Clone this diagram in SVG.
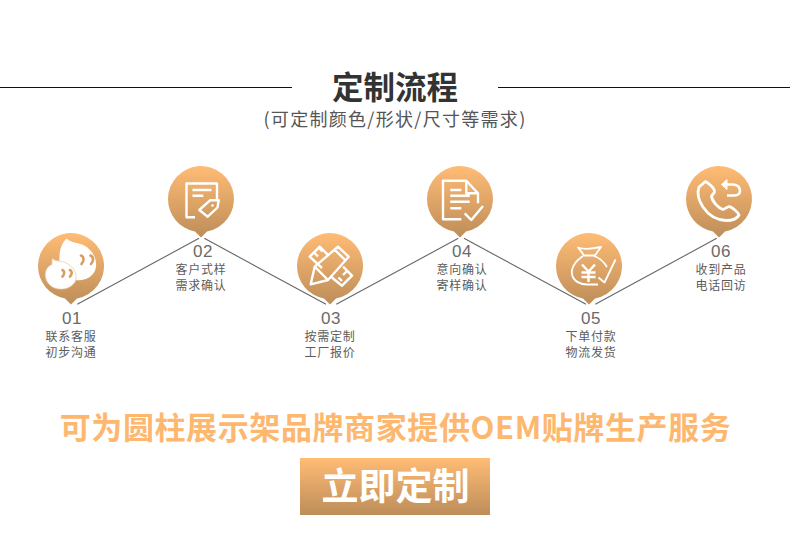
<svg xmlns="http://www.w3.org/2000/svg" width="790" height="537" viewBox="0 0 790 537">
<style>
text{font-family:"Noto Sans CJK SC","Liberation Sans",sans-serif;text-anchor:middle}
.num{font-family:"Liberation Sans","Noto Sans CJK SC",sans-serif;font-size:17px;fill:#6a6a6a;letter-spacing:.6px}
.lab{font-size:12px;fill:#5c5c5c;letter-spacing:.7px}
.ic{fill:none;stroke:#fff;stroke-width:2.4;stroke-linejoin:round}
.ln{fill:none;stroke:#666;stroke-width:1.1}
</style>
<defs>
<linearGradient id="g" x1="0" y1="0" x2="0" y2="1"><stop offset="0" stop-color="#ffbc75"/><stop offset="1" stop-color="#bd8d59"/></linearGradient>
<path id="pin" d="M-33 0A33 33 0 1 1 6 32.500L0 38.500L-6 32.500A33 33 0 0 1-33 0Z" fill="url(#g)"/>
</defs>
<rect width="790" height="537" fill="#fff"/>
<g id="title">
<path d="M0 87.500H292M498 87.500H790" stroke="#111" stroke-width="1.200"/>
<text x="395" y="99" font-size="31.500" font-weight="700" fill="#333">定制流程</text>
<text x="395" y="126" font-size="18" fill="#555" letter-spacing="1.300">(可定制颜色/形状/尺寸等需求)</text>
</g>
<g id="connectors">
<path class="ln" d="M77.300 304.300L199 238.300M204.300 238.300L326 304.300M336.300 304.300L458.300 238.300M464 238.300L586 304.300M595.300 304.300L716.700 238.300"/>
</g>
<g id="node-01">
<use href="#pin" x="71" y="266"/>
<path d="M66.700 238.500C71 244 84 242 90 250C97 257 98 268 93 274C88 280 80 281 73 280L60 270C59 260 58 246 66.700 238.500Z" fill="#fff"/>
<path d="M52.300 258.300C55 262 62 260 68 264C75 268 78 276 75 282C71 288 65 289.500 59 289C52 288.500 46 283 45.300 276C45 270 48 266 52 264.500C52 262 52 260 52.300 258.300Z" fill="#fff" stroke="#eccdaa" stroke-width=".8"/>
<path d="M81 255.500C84 256.500 84.500 260.500 81.500 264M90.500 255.500C93.500 256.500 94 260.500 91 264M62.500 270C64.500 271 65 274 62.500 276.500M70 270C72 271 72.500 274 70 276.500" fill="none" stroke="#d69f62" stroke-width="2.600" stroke-linecap="round"/>
<text class="num" x="72" y="324">01</text>
<text class="lab" x="71" y="340.500">联系客服</text>
<text class="lab" x="71" y="356.500">初步沟通</text>
</g>
<g id="node-02">
<use href="#pin" x="201" y="199"/>
<path class="ic" d="M195 217.300H186.500V183.500H217V199M192.500 190H211.500M192.500 195.700H203.300"/>
<path class="ic" d="M199.300 210L210 200.300H218.700L217.500 207.500L207.700 216.700Z"/>
<circle cx="212.500" cy="205.500" r="1.300" fill="#fff"/>
<text class="num" x="203" y="257">02</text>
<text class="lab" x="201" y="273.500">客户式样</text>
<text class="lab" x="201" y="289.500">需求确认</text>
</g>
<g id="node-03">
<use href="#pin" x="330" y="266"/>
<path class="ic" d="M310.700 284.300L314.700 266.700L338 246.700L348.700 256.700L328 280ZM314.700 266.700L328 280M335 250L345 260"/>
<path class="ic" d="M322 268L309.700 256.700L319.700 246.700L328.700 255.700M314 252.500L318 256.500M319 248L322.500 251.500M343 266.700L352 275.700L342 285.700L331 276.700M347 271L343 275M342 281L338.500 277.500"/>
<text class="num" x="331" y="324">03</text>
<text class="lab" x="330" y="340.500">按需定制</text>
<text class="lab" x="330" y="356.500">工厂报价</text>
</g>
<g id="node-04">
<use href="#pin" x="460" y="199"/>
<path class="ic" d="M461.300 219.300H443V180.700H466.300L478 193.300V203.300M466.300 180.700V193.300H478M450.300 190H461.300M450.300 195.700H469.700M450.300 201.700H469.700M450.300 208.300H461.300"/>
<path class="ic" d="M464.700 213.300L471.300 220L483 206"/>
<text class="num" x="462" y="257">04</text>
<text class="lab" x="462" y="273.500">意向确认</text>
<text class="lab" x="462" y="289.500">寄样确认</text>
</g>
<g id="node-05">
<use href="#pin" x="589" y="266"/>
<path class="ic" style="stroke-width:1.800" d="M578 247.500C585 250 592 249 601 247C598 251 596 254 595 255.500H584C582 252 580 250 578 247.500ZM583 256C574 262 571 269 572 274C573 281 580 284.500 587 284.500H598M594 256C600 258 604 262 607 267"/>
<path class="ic" d="M582 264.500L588.500 271.500L595 264.500M588.500 271.500V282M581.500 272.500H595.500M581.500 277H595.500"/>
<path class="ic" style="stroke-width:1.800" d="M598.500 277.500L604.500 282.500L615.500 259.500"/>
<text class="num" x="591" y="324">05</text>
<text class="lab" x="591" y="340.500">下单付款</text>
<text class="lab" x="591" y="356.500">物流发货</text>
</g>
<g id="node-06">
<use href="#pin" x="719" y="199"/>
<path class="ic" style="stroke-width:2.800" d="M705.500 181.500L699 187C697 193 699 201 703 207C709 216 717 220 726 220.500C732 220.500 737 219 739 215C738 212 733 208 729.500 206.500C727 207 725 209 723 209.500C718 208 712 201 711.500 196C713 194 715 193 714.500 190.500C713 187 708 183 705.500 181.500Z"/>
<path d="M721.500 184.500L727 179.500V189.500Z" fill="#fff" stroke="#fff" stroke-linejoin="round"/>
<path class="ic" style="stroke-width:2.600" d="M726 184.500H733C738 185 740 188 740 191C740 194 737 195.500 734 195.500H727"/>
<text class="num" x="721" y="257">06</text>
<text class="lab" x="721" y="273.500">收到产品</text>
<text class="lab" x="721" y="289.500">电话回访</text>
</g>
<g id="banner">
<text x="395.500" y="438.500" font-size="31" font-weight="700" fill="#fdb76f" letter-spacing=".6">可为圆柱展示架品牌商家提供OEM贴牌生产服务</text>
</g>
<g id="button">
<rect x="300" y="458" width="190" height="57" fill="url(#g)"/>
<text x="395.500" y="500" font-size="37" font-weight="700" fill="#fff">立即定制</text>
</g>
</svg>
